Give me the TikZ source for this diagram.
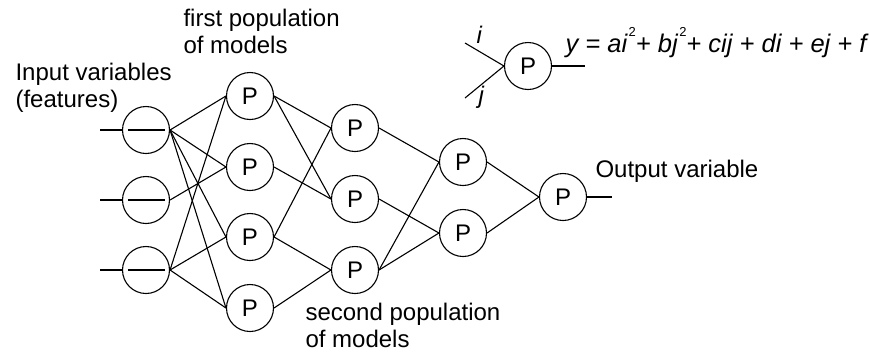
\documentclass[tikz,border=0pt]{standalone}
\usepackage{fontspec}
\setmainfont{Liberation Sans}
\begin{document}
\begin{tikzpicture}[x=1pt,y=-1pt,line width=1.1pt,
  neuron/.style={circle,draw,minimum size=47pt,inner sep=0pt,font=\fontsize{24}{28}\selectfont},
  lbl/.style={anchor=base west,inner sep=0pt,font=\fontsize{24}{28}\selectfont},
  conn/.style={line width=1.1pt}]
\fill[white] (0,0) rectangle (870,354);
\useasboundingbox (0,0) rectangle (870,354);
% input layer
\foreach \n/\y in {1/130,2/200,3/270}{
  \node[neuron] (x\n) at (146,\y) {};
  \coordinate (xs\n) at (100,\y);
  \draw[conn] (xs\n) -- (x\n.west);
  \draw[conn] ([xshift=-18pt]x\n.center) -- ([xshift=19pt]x\n.center);
}
% first population
\foreach \n/\y in {1/96,2/167,3/237,4/308}{
  \node[neuron] (a\n) at (250,\y) {P};
}
% second population
\foreach \n/\y in {1/128,2/199,3/270}{
  \node[neuron] (b\n) at (355,\y) {P};
}
% third layer
\foreach \n/\y in {1/162,2/233}{
  \node[neuron] (c\n) at (463,\y) {P};
}
\node[neuron] (out) at (563,197) {P};
\coordinate (oend) at (612,197);
\draw[conn] (out.east) -- (oend);
% connections input -> first
\foreach \t in {1,2,3,4}{\draw[conn] (x1.east) -- (a\t.west);}
\draw[conn] (x2.east) -- (a2.west);
\foreach \t in {1,3,4}{\draw[conn] (x3.east) -- (a\t.west);}
% first -> second
\draw[conn] (a1.east) -- (b1.west);
\draw[conn] (a1.east) -- (b2.west);
\draw[conn] (a2.east) -- (b2.west);
\draw[conn] (a3.east) -- (b1.west);
\draw[conn] (a3.east) -- (b3.west);
\draw[conn] (a4.east) -- (b3.west);
% second -> third
\draw[conn] (b1.east) -- (c1.west);
\draw[conn] (b2.east) -- (c2.west);
\draw[conn] (b3.east) -- (c1.west);
\draw[conn] (b3.east) -- (c2.west);
% third -> output
\draw[conn] (c1.east) -- (out.west);
\draw[conn] (c2.east) -- (out.west);
% labels
\node[lbl] (t1) at (183,26) {first population};
\node[lbl] (t2) at (183,53) {of models};
\node[lbl] (t3) at (15,80) {Input variables};
\node[lbl] (t4) at (15,107) {(features)};
\node[lbl] (t5) at (305,320) {second population};
\node[lbl] (t6) at (305,347) {of models};
\node[lbl] (t7) at (595,177) {Output variable};
% example node
\node[neuron] (pe) at (528,66) {P};
\coordinate (ci) at (465,43);
\coordinate (cj) at (465,98);
\coordinate (ce) at (585,66);
\draw[conn] (ci) -- (pe.west);
\draw[conn] (cj) -- (pe.west);
\draw[conn] (pe.east) -- (ce);
\node[lbl] (li) at (476,43) {\itshape i};
\node[lbl] (lj) at (478,103) {\itshape j};
\node[lbl,font=\fontsize{25.5}{28}\selectfont] (eq) at (565,52) {\itshape y = ai\kern1.5pt\raisebox{16pt}{\upshape\fontsize{13}{13}\selectfont 2}+ bj\kern1.5pt\raisebox{16pt}{\upshape\fontsize{13}{13}\selectfont 2}+ cij + di + ej + f};
\end{tikzpicture}
\end{document}
